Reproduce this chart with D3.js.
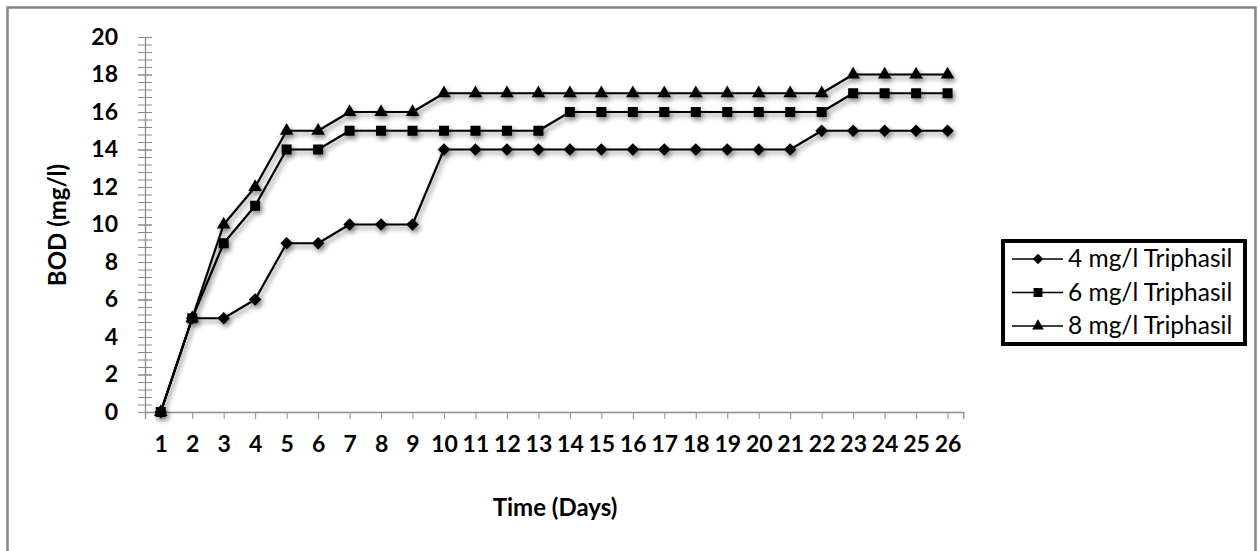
<!DOCTYPE html>
<html>
<head>
<meta charset="utf-8">
<script src="https://cdn.jsdelivr.net/npm/d3@7"></script>
<style>
  html, body { margin: 0; padding: 0; background: #fff; }
  svg { display: block; }
  text { font-family: Lato, "Open Sans", sans-serif; fill: #000; }
</style>
</head>
<body>
<svg id="chart" width="1260" height="551"></svg>
<script>
// BOD over time for three Triphasil doses
const days = d3.range(1, 27);
const bod4 = [0, 5, 5, 6, 9, 9, 10, 10, 10, 14, 14, 14, 14, 14, 14, 14, 14, 14, 14, 14, 14, 15, 15, 15, 15, 15];
const bod6 = [0, 5, 9, 11, 14, 14, 15, 15, 15, 15, 15, 15, 15, 16, 16, 16, 16, 16, 16, 16, 16, 16, 17, 17, 17, 17];
const bod8 = [0, 5, 10, 12, 15, 15, 16, 16, 16, 17, 17, 17, 17, 17, 17, 17, 17, 17, 17, 17, 17, 17, 18, 18, 18, 18];
const seriesNames = ["4 mg/l Triphasil", "6 mg/l Triphasil", "8 mg/l Triphasil"];
const seriesMarkers = ["diamond", "square", "triangle"];
const yMajorTicks = d3.range(0, 21, 2);
const yMinorTicks = d3.range(0, 50).map(i => i * 0.4);

const svg = d3.select("#chart");

// Shadow used by the lines and markers
const defs = svg.append("defs");
const shadow = defs.append("filter").attr("id", "shadow")
  .attr("x", "-20%").attr("y", "-20%").attr("width", "140%").attr("height", "160%");
shadow.append("feDropShadow")
  .attr("dx", 2).attr("dy", 3).attr("stdDeviation", 2.4)
  .attr("flood-color", "#000").attr("flood-opacity", 0.5);

// Outer chart frame
svg.append("rect")
  .attr("x", 7.5).attr("y", 7.5).attr("width", 1248).attr("height", 560)
  .attr("fill", "none").attr("stroke", "#858585").attr("stroke-width", 2.5);

const x = d3.scalePoint().domain(days).range([145, 963.3]).padding(0.5);
const y = d3.scaleLinear().domain([0, 20]).range([412, 37]);

const tickFont = sel => sel
  .style("font-family", "Lato, sans-serif").style("font-size", "23px").style("font-weight", "bold")
  .attr("fill", "#000");

// Y axis: minor ticks crossing the axis line, major ticks with labels
const yMinor = svg.append("g").attr("transform", "translate(145,0)")
  .call(d3.axisLeft(y).tickValues(yMinorTicks).tickSize(7).tickFormat(""));
yMinor.select(".domain").remove();
yMinor.selectAll(".tick line").attr("x1", 7).attr("stroke", "#8c8c8c").attr("stroke-width", 1);

const yAxis = svg.append("g").attr("transform", "translate(145,0)")
  .call(d3.axisLeft(y).tickValues(yMajorTicks).tickSize(7).tickSizeOuter(0).tickPadding(20));
yAxis.select(".domain").attr("stroke", "#8c8c8c").attr("stroke-width", 1.3);
yAxis.selectAll(".tick line").attr("x1", 7).attr("stroke", "#8c8c8c").attr("stroke-width", 1);
yAxis.selectAll(".tick text").call(tickFont);

// X axis
const xAxis = svg.append("g").attr("transform", "translate(0,412)")
  .call(d3.axisBottom(x).tickSize(7).tickSizeOuter(7).tickPadding(17));
xAxis.select(".domain").attr("stroke", "#8c8c8c").attr("stroke-width", 1.3);
xAxis.selectAll(".tick line").attr("stroke", "#8c8c8c").attr("stroke-width", 1);
xAxis.selectAll(".tick text").call(tickFont);

// Axis titles
svg.append("text")
  .attr("transform", "translate(66,225) rotate(-90)")
  .attr("text-anchor", "middle")
  .style("font-size", "24px").style("font-weight", "bold")
  .text("BOD (mg/l)");
svg.append("text")
  .attr("x", 555).attr("y", 516)
  .attr("text-anchor", "middle")
  .style("font-size", "24px").style("font-weight", "bold")
  .text("Time (Days)");

// Marker shapes
const symbolOf = (kind, size) => d3.symbol()
  .type(kind === "diamond" ? d3.symbolDiamond2 : kind === "square" ? d3.symbolSquare : d3.symbolTriangle)
  .size(size);
const plotSize = { diamond: 100, square: 100, triangle: 80 };
const legendSize = { diamond: 70, square: 80, triangle: 60 };

const allSeries = [bod4, bod6, bod8];
const line = d3.line().x((d, i) => x(days[i])).y(d => y(d));

const plot = svg.append("g").attr("filter", "url(#shadow)");
allSeries.forEach((vals, si) => {
  const g = plot.append("g");
  g.append("path").datum(vals)
    .attr("d", line)
    .attr("fill", "none").attr("stroke", "#000").attr("stroke-width", 2.2)
    .attr("stroke-linejoin", "round");
  const kind = seriesMarkers[si];
  g.selectAll("path.mk").data(vals).join("path")
    .attr("class", "mk")
    .attr("transform", (d, i) => `translate(${x(days[i])},${y(d)})`)
    .attr("d", symbolOf(kind, plotSize[kind]))
    .attr("fill", "#000");
});

// Legend
const legend = svg.append("g");
legend.append("rect")
  .attr("x", 1003).attr("y", 241).attr("width", 242).attr("height", 103)
  .attr("fill", "#fff").attr("stroke", "#000").attr("stroke-width", 4);
seriesNames.forEach((name, i) => {
  const ly = 259 + i * 33.5;
  const row = legend.append("g");
  row.append("line")
    .attr("x1", 1012).attr("x2", 1063).attr("y1", ly).attr("y2", ly)
    .attr("stroke", "#000").attr("stroke-width", 1.5);
  const kind = seriesMarkers[i];
  row.append("path")
    .attr("transform", `translate(1038,${ly})`)
    .attr("d", symbolOf(kind, legendSize[kind]))
    .attr("fill", "#000");
  row.append("text")
    .attr("x", 1068).attr("y", ly + 8)
    .style("font-size", "24.5px")
    .text(name);
});
</script>
</body>
</html>
